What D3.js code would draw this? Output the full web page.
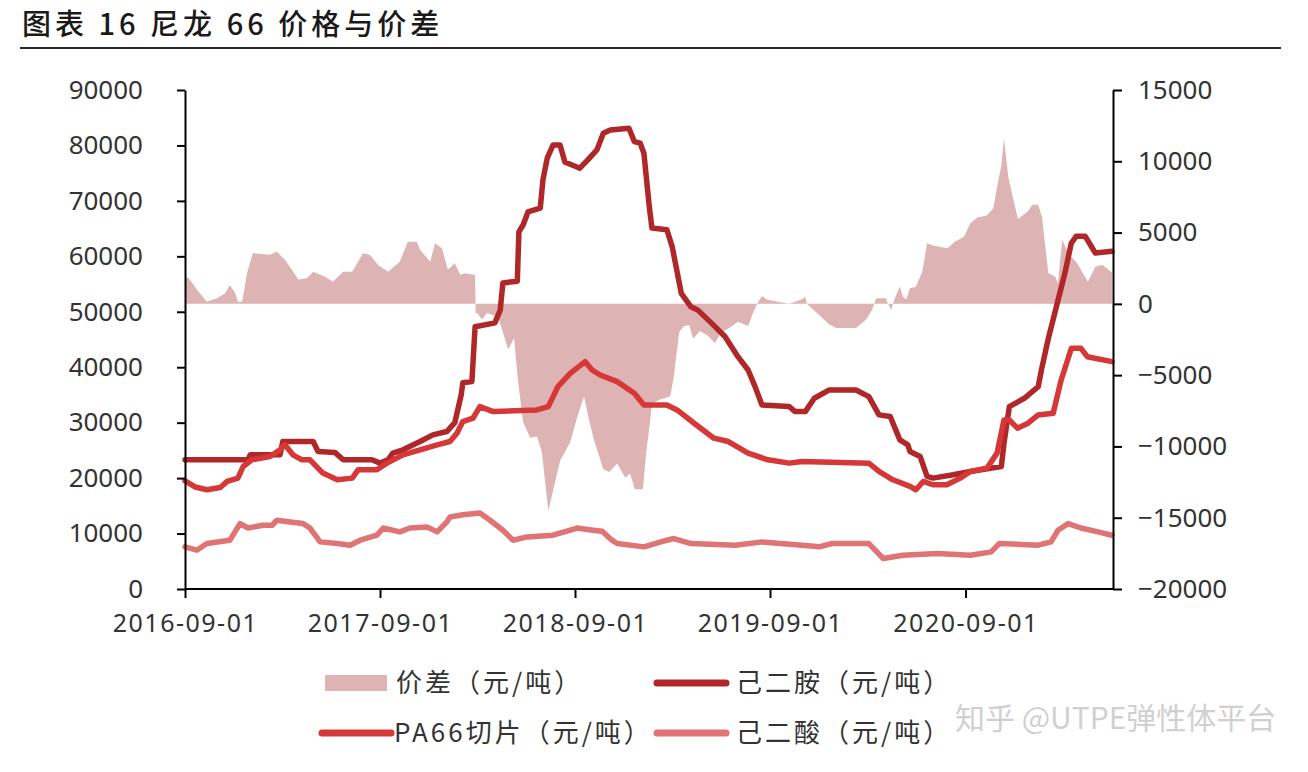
<!DOCTYPE html>
<html><head><meta charset="utf-8">
<script src="https://cdn.jsdelivr.net/npm/d3@7"></script>
<style>html,body{margin:0;padding:0;background:#fff;} svg{display:block;}</style>
</head><body><svg id="c" width="1308" height="772"></svg>
<script>
// ---------- DATA ----------
const seriesNames = ["价差（元/吨）", "己二胺（元/吨）", "PA66切片（元/吨）", "己二酸（元/吨）"];
const leftTicks = [0, 10000, 20000, 30000, 40000, 50000, 60000, 70000, 80000, 90000];
const rightTicks = [-20000, -15000, -10000, -5000, 0, 5000, 10000, 15000];
const xTickLabels = ["2016-09-01", "2017-09-01", "2018-09-01", "2019-09-01", "2020-09-01"];
const xDomain = ["2016-09-01", "2021-06-04"];

const spreadDates = ["2016-09-01","2016-09-10","2016-09-23","2016-10-12","2016-10-31","2016-11-15","2016-11-24","2016-12-04","2016-12-09","2016-12-17","2016-12-26","2017-01-06","2017-02-07","2017-02-20","2017-03-07","2017-03-20","2017-04-01","2017-04-17","2017-04-29","2017-05-21","2017-06-05","2017-06-24","2017-07-11","2017-07-31","2017-08-13","2017-08-28","2017-09-16","2017-10-08","2017-10-23","2017-11-09","2017-11-15","2017-12-04","2017-12-13","2017-12-26","2018-01-06","2018-01-19","2018-01-29","2018-02-07","2018-02-24","2018-02-26","2018-02-27","2018-03-02","2018-03-11","2018-03-20","2018-04-10","2018-04-19","2018-04-29","2018-05-10","2018-05-17","2018-05-27","2018-06-09","2018-06-22","2018-07-01","2018-07-13","2018-07-24","2018-08-04","2018-08-23","2018-09-07","2018-09-18","2018-09-27","2018-10-07","2018-10-24","2018-11-04","2018-11-19","2018-12-04","2018-12-13","2018-12-22","2019-01-06","2019-01-12","2019-01-18","2019-01-23","2019-02-07","2019-02-26","2019-03-04","2019-03-15","2019-03-24","2019-04-03","2019-04-10","2019-04-23","2019-05-08","2019-05-21","2019-06-01","2019-06-20","2019-07-03","2019-07-22","2019-07-31","2019-08-08","2019-08-17","2019-08-27","2019-10-07","2019-10-31","2019-11-06","2019-11-09","2019-11-15","2019-12-02","2019-12-21","2020-01-03","2020-02-09","2020-02-28","2020-03-10","2020-03-14","2020-03-18","2020-04-05","2020-04-09","2020-04-15","2020-04-18","2020-04-24","2020-05-01","2020-05-07","2020-05-13","2020-05-20","2020-05-31","2020-06-12","2020-06-21","2020-07-02","2020-07-29","2020-08-12","2020-08-29","2020-09-10","2020-09-23","2020-10-11","2020-10-23","2020-10-30","2020-11-07","2020-11-12","2020-11-20","2020-11-29","2020-12-08","2020-12-27","2021-01-04","2021-01-15","2021-01-22","2021-02-03","2021-02-16","2021-02-21","2021-03-01","2021-03-12","2021-03-29","2021-04-07","2021-04-18","2021-05-02","2021-05-15","2021-06-02"];
const spreadValues = [2000,1700,1000,150,400,750,1330,750,150,150,2150,3550,3450,3650,3100,2400,1700,1800,2250,1900,1550,2250,2250,3550,3450,2750,2250,2950,4350,4350,3800,2950,4250,3900,2400,2850,2050,2150,2050,2000,-650,-650,-1100,-650,-900,-2000,-3200,-2400,-5300,-8300,-9400,-9300,-10400,-14500,-12800,-11000,-9700,-7700,-6500,-8100,-9600,-11600,-11800,-11200,-12200,-11900,-13000,-13000,-10500,-8700,-7000,-6700,-6500,-5300,-2000,-1550,-1500,-2450,-1900,-2250,-2750,-2050,-1600,-1250,-1550,-650,0,550,280,0,330,500,0,-200,-780,-1450,-1700,-1700,-1100,-420,0,400,400,0,-450,0,600,1200,500,300,1100,1200,2250,4250,4100,3900,4350,4700,5650,6050,6200,6700,8200,9700,11600,8900,7400,5950,6500,6950,6950,6100,2150,1900,1450,4500,3550,2850,2250,1550,2600,2750,2200];

const hmdaDates = ["2016-09-01","2016-12-28","2017-01-01","2017-02-26","2017-03-03","2017-04-29","2017-05-08","2017-06-09","2017-06-24","2017-08-17","2017-09-01","2017-09-16","2017-09-25","2017-10-14","2017-11-15","2017-12-09","2018-01-04","2018-01-19","2018-01-31","2018-02-03","2018-02-20","2018-02-26","2018-04-04","2018-04-14","2018-04-19","2018-05-16","2018-05-19","2018-05-27","2018-06-05","2018-06-28","2018-07-03","2018-07-11","2018-07-22","2018-08-04","2018-08-13","2018-09-10","2018-09-25","2018-10-12","2018-10-24","2018-11-06","2018-12-11","2018-12-21","2019-01-01","2019-01-08","2019-01-18","2019-01-23","2019-02-20","2019-03-02","2019-03-19","2019-04-06","2019-04-19","2019-05-14","2019-06-09","2019-07-03","2019-07-22","2019-08-04","2019-08-17","2019-10-07","2019-10-18","2019-11-06","2019-11-23","2019-12-21","2020-02-09","2020-03-04","2020-03-23","2020-04-13","2020-05-01","2020-05-16","2020-05-20","2020-06-08","2020-06-21","2020-07-02","2020-08-09","2020-09-10","2020-11-07","2020-11-12","2020-11-22","2020-12-20","2021-01-15","2021-01-21","2021-02-03","2021-02-18","2021-03-06","2021-03-18","2021-03-27","2021-04-13","2021-05-02","2021-06-02"];
const hmdaValues = [23300,23300,24200,24200,26600,26600,24800,24600,23300,23300,22700,23300,24500,25100,26600,27800,28400,30000,35000,37200,37400,47300,48000,50300,55200,55500,64400,65700,68000,68700,73800,77700,80100,80100,77000,75900,77400,79200,82200,82800,83100,80700,80400,78600,69000,65100,64800,61700,53300,50900,50300,48000,45500,41900,39500,36500,33200,32900,32000,32000,34400,35900,35900,34700,31400,31100,26900,26000,24800,23900,20300,20000,20600,21200,22100,26300,32900,34400,36500,39500,45200,50900,57000,62400,63600,63600,60600,60900];

const pa66Dates = ["2016-09-01","2016-09-20","2016-10-12","2016-11-06","2016-11-19","2016-12-09","2016-12-19","2017-01-04","2017-02-07","2017-02-26","2017-03-07","2017-03-22","2017-04-08","2017-04-23","2017-05-17","2017-06-13","2017-07-11","2017-07-22","2017-08-26","2017-09-14","2017-10-14","2017-11-15","2017-12-17","2018-01-10","2018-01-23","2018-02-03","2018-02-22","2018-03-07","2018-04-01","2018-06-22","2018-07-13","2018-07-31","2018-08-23","2018-09-20","2018-10-03","2018-10-18","2018-11-19","2018-12-21","2019-01-08","2019-02-20","2019-03-11","2019-04-12","2019-05-19","2019-06-15","2019-07-22","2019-08-28","2019-10-07","2019-10-31","2020-03-04","2020-03-23","2020-04-18","2020-05-20","2020-05-31","2020-06-14","2020-07-02","2020-07-28","2020-08-22","2020-09-10","2020-10-11","2020-10-30","2020-11-12","2020-11-22","2020-12-07","2020-12-27","2021-01-15","2021-02-12","2021-02-27","2021-03-18","2021-04-05","2021-04-17","2021-06-02"];
const pa66Values = [19500,18400,17900,18300,19400,20000,22100,23300,23900,25100,26000,24200,23300,23300,20900,19700,20000,21500,21500,22700,24200,25100,26000,26600,28100,30200,30800,32900,32000,32300,32900,36500,38900,41000,39500,38600,37400,35300,33200,33200,32300,29900,27200,26600,24500,23300,22700,23000,22700,21200,19700,18500,17900,19400,18800,18800,20000,21200,21800,24500,30500,30500,29000,29900,31400,31700,37700,43400,43400,41900,41000];

const adaDates = ["2016-09-01","2016-09-23","2016-10-12","2016-11-24","2016-12-13","2016-12-28","2017-01-25","2017-02-11","2017-02-20","2017-03-17","2017-04-10","2017-04-23","2017-05-12","2017-06-13","2017-07-07","2017-07-26","2017-08-26","2017-09-07","2017-10-08","2017-10-27","2017-11-28","2017-12-17","2018-01-04","2018-01-10","2018-02-03","2018-03-07","2018-03-26","2018-04-19","2018-05-08","2018-06-03","2018-07-22","2018-09-05","2018-10-05","2018-10-22","2018-11-09","2018-11-19","2019-01-08","2019-02-20","2019-03-05","2019-04-06","2019-06-28","2019-08-17","2019-10-31","2019-12-02","2019-12-26","2020-03-04","2020-03-31","2020-05-07","2020-07-10","2020-09-10","2020-10-19","2020-11-03","2021-01-15","2021-02-08","2021-02-21","2021-03-12","2021-04-05","2021-05-07","2021-06-02"];
const adaValues = [7600,7000,8200,8800,11800,11000,11500,11500,12400,12100,11800,11000,8500,8200,7900,8800,9700,11000,10300,11000,11200,10300,12100,13000,13400,13700,12400,10600,8800,9400,9700,11000,10600,10400,8800,8200,7600,8800,9100,8200,7900,8500,7900,7600,8200,8200,5500,6100,6400,6100,6700,8200,7900,8500,10600,11800,11000,10300,9700];

// ---------- SETUP ----------
const parse = d3.timeParse("%Y-%m-%d");
const zip = (ds, vs) => ds.map((d, i) => ({date: parse(d), v: vs[i]}));
const spread = zip(spreadDates, spreadValues);
const hmda = zip(hmdaDates, hmdaValues);
const pa66 = zip(pa66Dates, pa66Values);
const ada = zip(adaDates, adaValues);

const colSpread = "#deb3b3", colHmda = "#b02729", colPa66 = "#d63838", colAda = "#e07474";
const tickFont = "'Noto Sans', 'DejaVu Sans', sans-serif";
const cjkFont = "'Noto Sans CJK SC', 'Noto Sans', sans-serif";

const svg = d3.select("#c");
svg.append("rect").attr("width", 1308).attr("height", 772).attr("fill", "#fff");

const L = 185, R = 1113, T = 90, B = 589;
const x = d3.scaleTime().domain(xDomain.map(parse)).range([L, R]);
const yL = d3.scaleLinear().domain([0, 90000]).range([B, T]);
const yR = d3.scaleLinear().domain([-20000, 15000]).range([B, T]);

// Title
svg.append("text").attr("x", 22).attr("y", 35)
  .attr("font-family", cjkFont).attr("font-size", 29).attr("font-weight", 500)
  .attr("letter-spacing", 4).attr("fill", "#1a1a1a")
  .text("图表 16 尼龙 66 价格与价差");
svg.append("line").attr("x1", 20).attr("x2", 1281).attr("y1", 48).attr("y2", 48)
  .attr("stroke", "#2a2a2a").attr("stroke-width", 2);

// Spread area
svg.append("path").datum(spread)
  .attr("fill", colSpread)
  .attr("d", d3.area().x(d => x(d.date)).y0(yR(0)).y1(d => yR(d.v)));

// Lines
const lineL = d3.line().x(d => x(d.date)).y(d => yL(d.v));
[[hmda, colHmda], [pa66, colPa66], [ada, colAda]].forEach(([data, c]) => {
  svg.append("path").datum(data).attr("fill", "none").attr("stroke", c)
    .attr("stroke-width", 5.5).attr("stroke-linejoin", "round").attr("stroke-linecap", "round")
    .attr("d", lineL);
});

// Axes
function styleAxis(g, size) {
  g.selectAll(".domain").attr("stroke", "#000").attr("stroke-width", 2);
  g.selectAll(".tick line").attr("stroke", "#000").attr("stroke-width", 2);
  g.selectAll(".tick text").attr("font-family", tickFont).attr("font-size", size).attr("fill", "#333");
}
const gL = svg.append("g").attr("transform", `translate(${L},0)`)
  .call(d3.axisLeft(yL).tickValues(leftTicks).tickSize(8).tickSizeOuter(0).tickPadding(34).tickFormat(d3.format("d")));
styleAxis(gL, 26);
gL.selectAll(".tick text").attr("dy", "0.32em");
const gR = svg.append("g").attr("transform", `translate(${R},0)`)
  .call(d3.axisRight(yR).tickValues(rightTicks).tickSize(9).tickSizeOuter(0).tickPadding(16).tickFormat(d3.format("d")));
styleAxis(gR, 26);
gR.selectAll(".tick text").attr("dy", "0.32em");
const gB = svg.append("g").attr("transform", `translate(0,${B})`)
  .call(d3.axisBottom(x).tickValues(xTickLabels.map(parse)).tickSize(9).tickSizeOuter(0).tickPadding(16).tickFormat(d3.timeFormat("%Y-%m-%d")));
styleAxis(gB, 25);
gB.selectAll(".tick text").attr("letter-spacing", 1.5).attr("dy", "0.72em");
gB.select(".domain").attr("d", `M${L},0H${R}`);

// Legend
const legend = [
  {name: seriesNames[0], type: "rect", c: colSpread, sx: 325, tx: 396, y: 683},
  {name: seriesNames[1], type: "line", c: colHmda, sx: 657, tx: 736, y: 683},
  {name: seriesNames[2], type: "line", c: colPa66, sx: 322, tx: 394, y: 733},
  {name: seriesNames[3], type: "line", c: colAda, sx: 657, tx: 736, y: 733}
];
legend.forEach(l => {
  if (l.type === "rect") {
    svg.append("rect").attr("x", l.sx).attr("y", l.y - 8).attr("width", 62).attr("height", 16).attr("fill", l.c);
  } else {
    svg.append("line").attr("x1", l.sx).attr("x2", l.sx + 69).attr("y1", l.y).attr("y2", l.y)
      .attr("stroke", l.c).attr("stroke-width", 7).attr("stroke-linecap", "round");
  }
  svg.append("text").attr("x", l.tx).attr("y", l.y).attr("dy", "0.36em")
    .attr("font-family", cjkFont).attr("font-size", 26).attr("letter-spacing", 3).attr("fill", "#333")
    .text(l.name);
});

// Watermark
svg.append("text").attr("x", 955).attr("y", 729)
  .attr("font-family", cjkFont).attr("font-size", 30).attr("fill", "#b8b8b8").attr("opacity", 0.65)
  .text("知乎 @UTPE弹性体平台");
</script></body></html>
